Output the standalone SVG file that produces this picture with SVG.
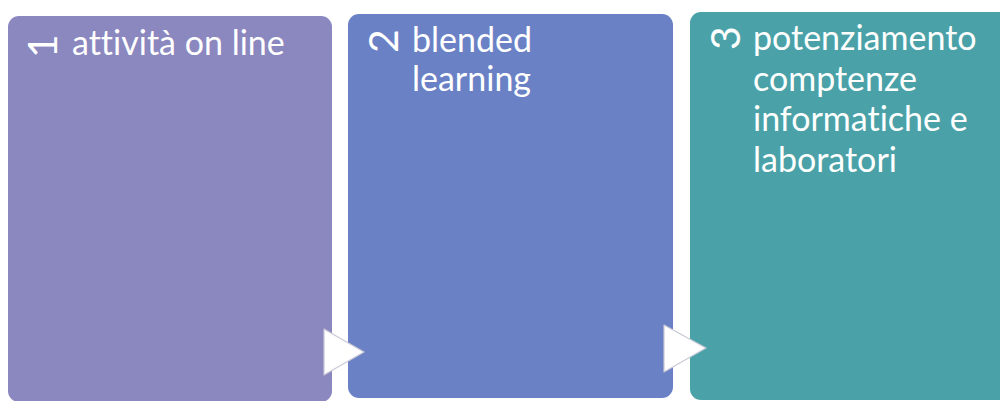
<svg xmlns="http://www.w3.org/2000/svg" width="1000" height="401" viewBox="0 0 1000 401">
<style>
.lbl{font-family:Lato,"Open Sans","Liberation Sans",sans-serif;font-size:34px;fill:#ffffff;font-variant-ligatures:none}
.num{font-family:Lato,"Open Sans","Liberation Sans",sans-serif;font-size:41px;fill:#ffffff;text-anchor:middle}
.arr{fill:#ffffff;stroke:#c9c9d6;stroke-width:1.2;stroke-linejoin:round}
</style>
<rect width="1000" height="401" fill="#ffffff"/>
<g id="node1">
<rect x="8" y="16" width="324" height="386" rx="11" fill="#8b87bf"/>
<text class="num" transform="translate(42,46) rotate(-90)" y="15">1</text>
<text class="lbl" x="72" y="55">attività on line</text>
</g>
<g id="node2">
<rect x="348" y="14" width="325" height="384" rx="11" fill="#6a81c5"/>
<text class="num" transform="translate(383,41) rotate(-90)" y="15">2</text>
<text class="lbl" x="412" y="52">blended</text>
<text class="lbl" x="412" y="91">learning</text>
</g>
<g id="node3">
<rect x="690" y="12" width="330" height="388" rx="11" fill="#4aa2a8"/>
<text class="num" transform="translate(725,38) rotate(-90)" y="15">3</text>
<text class="lbl" x="753" y="50">potenziamento</text>
<text class="lbl" x="753" y="91">comptenze</text>
<text class="lbl" x="753" y="131">informatiche e</text>
<text class="lbl" x="753" y="172">laboratori</text>
</g>
<g id="connectors">
<polygon class="arr" points="324,329 364,352 324,375"/>
<polygon class="arr" points="664,325 706,348 664,372"/>
</g>
</svg>
